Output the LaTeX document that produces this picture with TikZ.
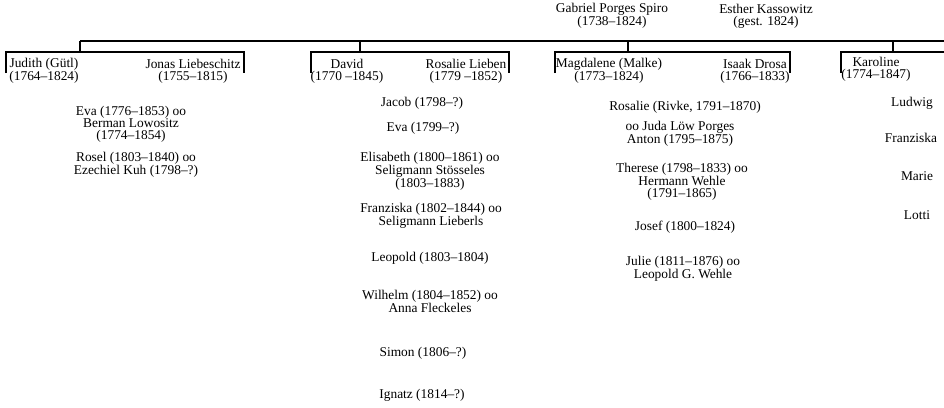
\documentclass[tikz,border=0pt]{standalone}
\usepackage{fontspec}
\setmainfont{Liberation Serif}
\usepackage{tikz}
\tikzset{person/.style={align=center,inner sep=0pt,font=\fontsize{13.4}{12}\selectfont},
  famline/.style={line width=2pt}}

\begin{document}
\begin{tikzpicture}[x=1pt,y=-1pt]
\useasboundingbox (0,0) rectangle (944,407);
\node[person](gabriel) at (612,16) {Gabriel Porges Spiro\\(1738–1824)};
\node[person](esther) at (766,16) {Esther Kassowitz\\(gest. 1824)};
\node[person](judith) at (44,71) {Judith (Gütl)\\(1764–1824)};
\node[person](jonas) at (193,71) {Jonas Liebeschitz\\(1755–1815)};
\node[person](david) at (347,71) {David\\(1770 –1845)};
\node[person](rosalie) at (466,71) {Rosalie Lieben\\(1779 –1852)};
\node[person](magdalene) at (609,71) {Magdalene (Malke)\\(1773–1824)};
\node[person](isaak) at (755,71) {Isaak Drosa\\(1766–1833)};
\node[person](karoline) at (876,69) {Karoline\\(1774–1847)};
\node[person](eva) at (131,124) {Eva (1776–1853) oo\\Berman Lowositz\\(1774–1854)};
\node[person](rosel) at (136,165) {Rosel (1803–1840) oo\\Ezechiel Kuh (1798–?)};
\node[person](jacob) at (422,103) {Jacob (1798–?)};
\node[person](eva2) at (423,128) {Eva (1799–?)};
\node[person](elisabeth) at (430,171) {Elisabeth (1800–1861) oo\\Seligmann Stösseles\\(1803–1883)};
\node[person](franziska) at (431,216) {Franziska (1802–1844) oo\\Seligmann Lieberls};
\node[person](leopold) at (430,258) {Leopold (1803–1804)};
\node[person](wilhelm) at (430,301) {Wilhelm (1804–1852) oo\\Anna Fleckeles};
\node[person](simon) at (423,353) {Simon (1806–?)};
\node[person](ignatz) at (422,395) {Ignatz (1814–?)};
\node[person](rivke) at (685,107) {Rosalie (Rivke, 1791–1870)};
\node[person](juda) at (680,134) {oo Juda Löw Porges\\Anton (1795–1875)};
\node[person](therese) at (682,182) {Therese (1798–1833) oo\\Hermann Wehle\\(1791–1865)};
\node[person](josef) at (685,227) {Josef (1800–1824)};
\node[person](julie) at (683,269) {Julie (1811–1876) oo\\Leopold G. Wehle};
\node[person](ludwig) at (912,103) {Ludwig};
\node[person](franziska2) at (911,138) {Franziska};
\node[person](marie) at (917,176) {Marie};
\node[person](lotti) at (917,215) {Lotti};
\coordinate (root) at (80,41);
\coordinate (rootend) at (944,41);
\draw[famline] (root) -- (rootend);
\foreach \n/\l/\m/\r in {liebeschitz/6/80/244,lieben/311/360/509,drosa/555/628/790}{
  \coordinate (\n-l) at (\l,73);
  \coordinate (\n-m) at (\m,41);
  \coordinate (\n-r) at (\r,73);
  \draw[famline] (\n-l) -- ++(0,-21) -| (\n-r);
  \draw[famline] (\n-m) -- ++(0,11);
}
\coordinate (karo-l) at (841,73);
\coordinate (karo-m) at (893,41);
\coordinate (karo-r) at (944,52);
\draw[famline] (karo-l) |- (karo-r);
\draw[famline] (karo-m) -- ++(0,11);
\end{tikzpicture}
\end{document}
